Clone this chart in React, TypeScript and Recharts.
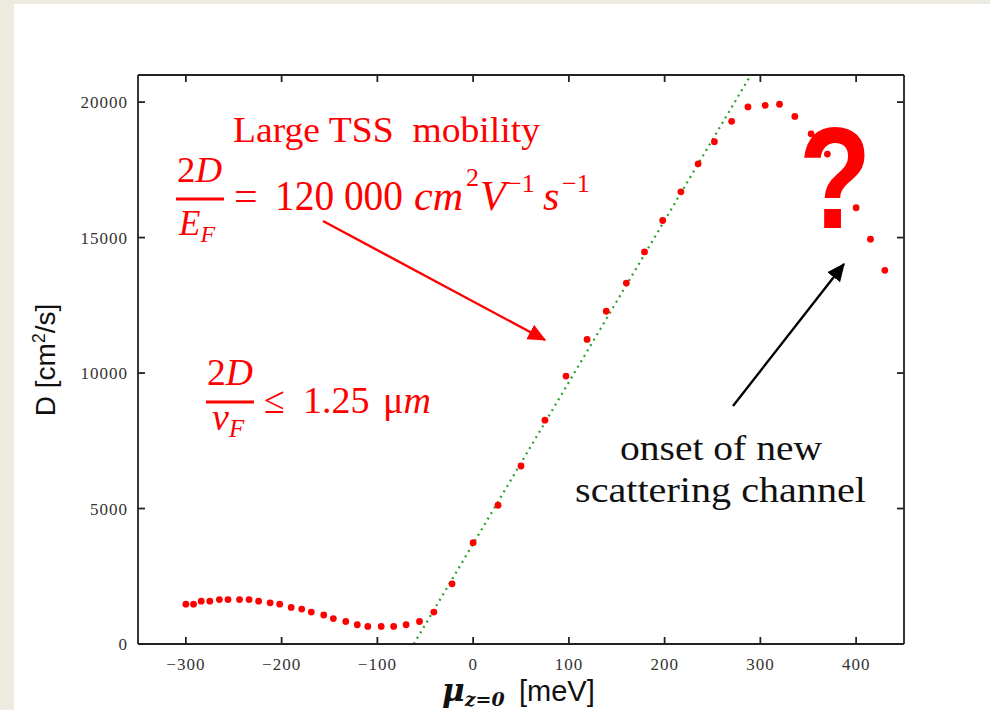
import React from "react";
import { ComposedChart, Scatter, Line, XAxis, YAxis } from "recharts";

// measured points (meV, cm^2/s)
const muValues = [
  -300, -292, -284, -275, -265, -256, -244, -234, -224, -212, -202, -190, -179, -169, -156,
  -146, -133, -121, -110, -96, -83, -70, -56, -41, -22, 0, 26, 50, 75, 97, 119, 139, 160,
  179, 198, 217, 235, 252, 270, 287, 305, 320, 336, 353, 370, 384, 400, 415, 430,
];
const dValues = [
  1470, 1470, 1580, 1580, 1640, 1640, 1640, 1640, 1580, 1520, 1470, 1350, 1290, 1180, 1070,
  940, 830, 710, 650, 650, 650, 710, 830, 1180, 2220, 3740, 5120, 6570, 8260, 9890, 11240,
  12280, 13320, 14470, 15630, 16690, 17720, 18540, 19290, 19820, 19880, 19920, 19470, 18830,
  18080, 17200, 16100, 14940, 13790,
];

// linear fit (green dotted)
const fitMu = [-62, 290];
const fitD = [0, 21000];

const xTicks = [-300, -200, -100, 0, 100, 200, 300, 400];
const yTicks = [0, 5000, 10000, 15000, 20000];

const points = muValues.map((mu, i) => ({ mu, d: dValues[i] }));
const fitLine = fitMu.map((mu, i) => ({ mu, d: fitD[i] }));

const tickStyle = { fontFamily: "Liberation Serif", fontSize: 17, fill: "#333", letterSpacing: 1 };
const frame = { stroke: "#222", strokeWidth: 1.8 };
const fmtX = (v: number) => (v < 0 ? "\u2212" + Math.abs(v) : String(v));

const Dot = (props: any) => <circle cx={props.cx} cy={props.cy} r={3.4} fill="#ff0000" />;

const RED = "#ff0000";
const mathFont = "Liberation Serif";

export default function App() {
  return (
    <div style={{ position: "absolute", left: 0, top: 0, width: 990, height: 710, background: "#edeadf" }}>
      <div style={{ position: "absolute", left: 14, top: 4, right: 0, bottom: 0, background: "#fff" }} />
      <div style={{ position: "absolute", left: 0, top: 0 }}>
        <ComposedChart width={990} height={710} margin={{ top: 74, right: 85, bottom: 65, left: 137 }}>
          <XAxis
            xAxisId="b"
            type="number"
            dataKey="mu"
            domain={[-350, 450]}
            ticks={xTicks}
            tickFormatter={fmtX}
            height={1}
            tickSize={-7}
            tickMargin={21}
            tick={tickStyle}
            axisLine={frame}
            tickLine={frame}
            allowDataOverflow
          />
          <XAxis
            xAxisId="t"
            orientation="top"
            type="number"
            dataKey="mu"
            domain={[-350, 450]}
            ticks={xTicks}
            tickFormatter={() => ""}
            height={1}
            tickSize={-7}
            axisLine={frame}
            tickLine={frame}
            allowDataOverflow
          />
          <YAxis
            yAxisId="l"
            type="number"
            dataKey="d"
            domain={[0, 21000]}
            ticks={yTicks}
            width={1}
            tickSize={-7}
            tickMargin={17}
            tick={tickStyle}
            axisLine={frame}
            tickLine={frame}
            allowDataOverflow
          />
          <YAxis
            yAxisId="r"
            orientation="right"
            type="number"
            dataKey="d"
            domain={[0, 21000]}
            ticks={yTicks}
            tickFormatter={() => ""}
            width={1}
            tickSize={-7}
            axisLine={frame}
            tickLine={frame}
            allowDataOverflow
          />
          <Line
            xAxisId="b"
            yAxisId="l"
            data={fitLine}
            dataKey="d"
            stroke="#2e9e2e"
            strokeWidth={2.2}
            strokeDasharray="2 4.3"
            dot={false}
            isAnimationActive={false}
          />
          <Scatter xAxisId="b" yAxisId="l" data={points} dataKey="d" shape={Dot} isAnimationActive={false} />
        </ComposedChart>
      </div>
      <svg
        width={990}
        height={710}
        style={{ position: "absolute", left: 0, top: 0, pointerEvents: "none" }}
      >
        <defs>
          <marker id="redHead" markerWidth="8" markerHeight="8" refX="7" refY="4" orient="auto" markerUnits="strokeWidth">
            <path d="M0,0.6 L7.5,4 L0,7.4 z" fill={RED} />
          </marker>
          <marker id="blackHead" markerWidth="8" markerHeight="8" refX="7" refY="4" orient="auto" markerUnits="strokeWidth">
            <path d="M0,0.6 L7.5,4 L0,7.4 z" fill="#000" />
          </marker>
        </defs>

        {/* axis titles */}
        <text
          transform="translate(55,360) rotate(-90)"
          textAnchor="middle"
          fontFamily="Liberation Sans"
          fontSize={28}
          fill="#111"
        >
          D [cm<tspan dy={-10} fontSize={18}>2</tspan>
          <tspan dy={10}>/s]</tspan>
        </text>
        <text x={442} y={701} fill="#111">
          <tspan fontFamily="DejaVu Serif" fontStyle="italic" fontWeight="bold" fontSize={31}>μ</tspan>
          <tspan dy={5} fontFamily="DejaVu Serif" fontStyle="italic" fontWeight="bold" fontSize={19}>z=0</tspan>
          <tspan x={519} dy={-5} fontFamily="Liberation Sans" fontSize={29}>[meV]</tspan>
        </text>

        {/* red annotations */}
        <text x={233} y={142} fontFamily={mathFont} fontSize={35} fill={RED} textLength={307} lengthAdjust="spacingAndGlyphs" style={{ whiteSpace: "pre" }}>
          Large TSS  mobility
        </text>

        <text x={177} y={182} fontFamily={mathFont} fontSize={36} fill={RED} textLength={45} lengthAdjust="spacingAndGlyphs">
          2<tspan fontStyle="italic">D</tspan>
        </text>
        <rect x={176} y={197.5} width={48} height={3} fill={RED} />
        <text x={179} y={235} fontFamily={mathFont} fontSize={35} fill={RED} fontStyle="italic">
          E<tspan dy={7} fontSize={24}>F</tspan>
        </text>
        <text y={210} fontFamily={mathFont} fontSize={42} fill={RED}>
          <tspan x={234}>=</tspan>
          <tspan x={275} textLength={128} lengthAdjust="spacingAndGlyphs">120 000</tspan>
          <tspan x={414} fontStyle="italic">cm</tspan>
          <tspan x={466} y={186} fontSize={26}>2</tspan>
          <tspan x={480} y={210} fontStyle="italic">V</tspan>
          <tspan x={507} y={192} fontSize={26}>−1</tspan>
          <tspan x={543} y={210} fontStyle="italic">s</tspan>
          <tspan x={562} y={192} fontSize={26}>−1</tspan>
        </text>

        <text x={207} y={385} fontFamily={mathFont} fontSize={38} fill={RED} textLength={46} lengthAdjust="spacingAndGlyphs">
          2<tspan fontStyle="italic">D</tspan>
        </text>
        <rect x={206} y={400.5} width={48} height={3} fill={RED} />
        <text x={212} y={430} fontFamily={mathFont} fontSize={38} fill={RED} fontStyle="italic">
          v<tspan dy={7} fontSize={25}>F</tspan>
        </text>
        <text y={413} fontFamily={mathFont} fontSize={38} fill={RED}>
          <tspan x={264}>≤</tspan>
          <tspan x={303}>1.25</tspan>
          <tspan x={383}>μ</tspan>
          <tspan fontStyle="italic">m</tspan>
        </text>

        <line x1={323} y1={221} x2={545} y2={340} stroke={RED} strokeWidth={2.4} markerEnd="url(#redHead)" />

        <text
          transform="translate(835,228) scale(0.82,1)"
          textAnchor="middle"
          fontFamily="Liberation Sans"
          fontWeight="bold"
          fontSize={145}
          fill={RED}
        >
          ?
        </text>

        {/* black annotation */}
        <line x1={733} y1={406} x2={844} y2={264} stroke="#000" strokeWidth={2.4} markerEnd="url(#blackHead)" />
        <text x={620} y={460} fontFamily={mathFont} fontSize={36} fill="#111" textLength={202} lengthAdjust="spacingAndGlyphs">
          onset of new
        </text>
        <text x={575} y={502} fontFamily={mathFont} fontSize={36} fill="#111" textLength={291} lengthAdjust="spacingAndGlyphs">
          scattering channel
        </text>
      </svg>
    </div>
  );
}
